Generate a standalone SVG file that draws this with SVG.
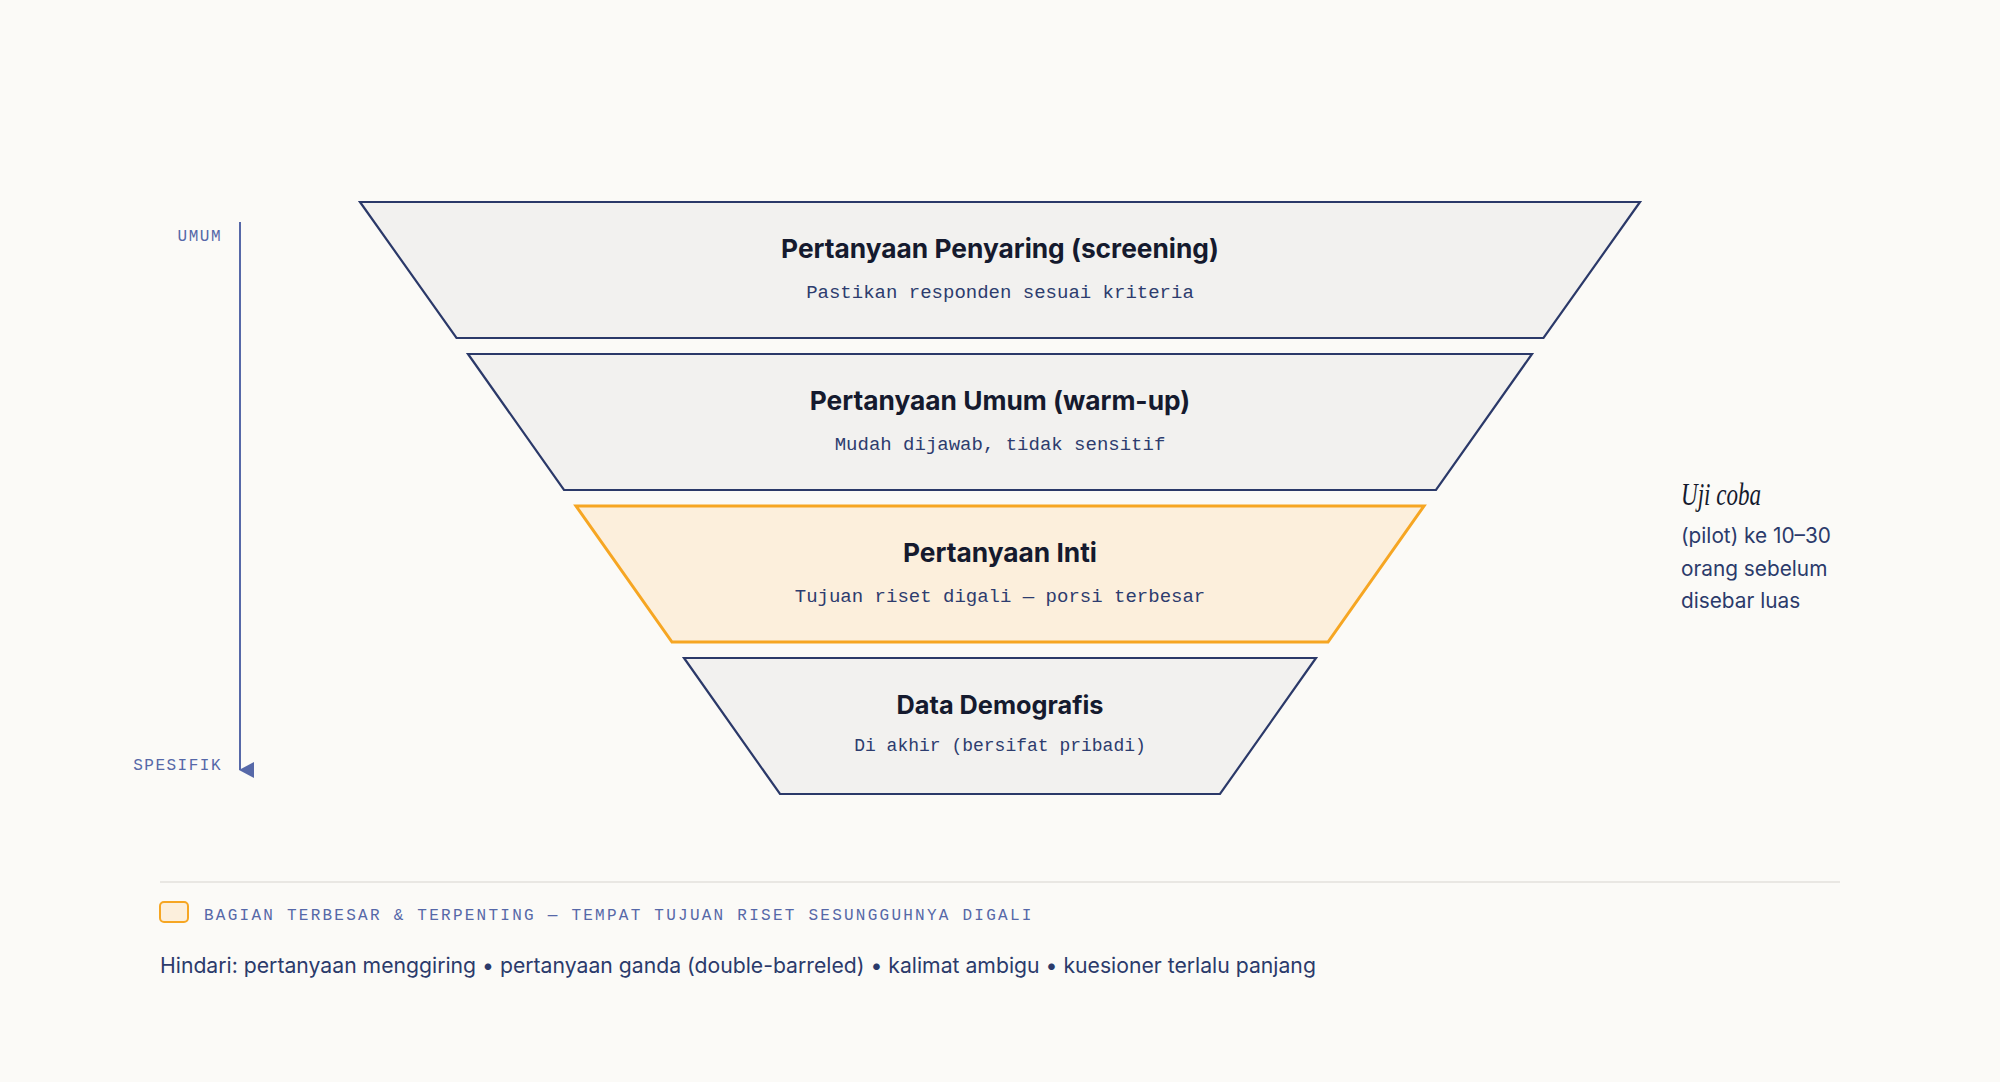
<svg xmlns="http://www.w3.org/2000/svg" width="2000" height="1082" viewBox="0 0 2000 1082">
<style>
.bg{fill:#fbfaf7}
.band{fill:#f2f1ef;stroke:#2b3969;stroke-width:2.2;stroke-linejoin:miter}
.band.hot{fill:#fcefdc;stroke:#f6a623;stroke-width:3}
.title{font-family:Inter,"DejaVu Sans",sans-serif;font-weight:700;font-size:26.3px;fill:#151a2e;text-anchor:middle}
.sub{font-family:"Liberation Mono","DejaVu Sans Mono",monospace;font-size:19px;fill:#2d3c6e;text-anchor:middle}
.small .title{font-size:25.3px}
.small .sub{font-size:18px}
.axis{font-family:"Liberation Mono","DejaVu Sans Mono",monospace;font-size:16px;fill:#5668a8;letter-spacing:1.5px;text-anchor:end}
.note-h{font-family:"Liberation Serif","DejaVu Serif",serif;font-style:italic;font-size:31px;fill:#151a2e}
.note{font-family:Inter,"DejaVu Sans",sans-serif;font-size:20.8px;fill:#2b3a6b}
.legend{font-family:"Liberation Mono","DejaVu Sans Mono",monospace;font-size:16px;fill:#5668a8;letter-spacing:2.25px}
.foot{font-family:Inter,"DejaVu Sans",sans-serif;font-size:21.2px;fill:#2b3a6b}
</style>
<rect class="bg" x="0" y="0" width="2000" height="1082"/>

<g id="connectors">
  <line x1="240" y1="222" x2="240" y2="770" stroke="#5668a8" stroke-width="2"/>
  <polygon points="239,770 254,762 254,778" fill="#5668a8"/>
</g>

<g id="axis-labels">
  <text class="axis" x="222" y="241">UMUM</text>
  <text class="axis" x="222" y="770">SPESIFIK</text>
</g>

<g id="node-screening">
  <polygon class="band" points="360,202 1640,202 1543.5,338 456.5,338"/>
  <text class="title" x="1000" y="258">Pertanyaan Penyaring (screening)</text>
  <text class="sub" x="1000" y="298">Pastikan responden sesuai kriteria</text>
</g>

<g id="node-warmup">
  <polygon class="band" points="468,354 1532,354 1436,490 564,490"/>
  <text class="title" x="1000" y="410">Pertanyaan Umum (warm-up)</text>
  <text class="sub" x="1000" y="450">Mudah dijawab, tidak sensitif</text>
</g>

<g id="node-inti">
  <polygon class="band hot" points="576,506 1424,506 1328,642 672,642"/>
  <text class="title" x="1000" y="562">Pertanyaan Inti</text>
  <text class="sub" x="1000" y="602">Tujuan riset digali — porsi terbesar</text>
</g>

<g id="node-demografis" class="small">
  <polygon class="band" points="684,658 1316,658 1220,794 780,794"/>
  <text class="title" x="1000" y="714">Data Demografis</text>
  <text class="sub" x="1000" y="751">Di akhir (bersifat pribadi)</text>
</g>

<g id="note-pilot">
  <text class="note-h" x="1681" y="505" textLength="80" lengthAdjust="spacingAndGlyphs">Uji coba</text>
  <text class="note" x="1681" y="543">(pilot) ke 10–30</text>
  <text class="note" x="1681" y="576">orang sebelum</text>
  <text class="note" x="1681" y="608">disebar luas</text>
</g>

<g id="legend">
  <line x1="160" y1="882" x2="1840" y2="882" stroke="#e3e1dc" stroke-width="1.5"/>
  <rect x="160" y="902" width="28" height="20" rx="4" fill="#fcefdc" stroke="#f6a623" stroke-width="2"/>
  <text class="legend" x="204" y="920">BAGIAN TERBESAR &amp; TERPENTING — TEMPAT TUJUAN RISET SESUNGGUHNYA DIGALI</text>
  <text class="foot" x="160" y="973">Hindari: pertanyaan menggiring • pertanyaan ganda (double-barreled) • kalimat ambigu • kuesioner terlalu panjang</text>
</g>
</svg>
